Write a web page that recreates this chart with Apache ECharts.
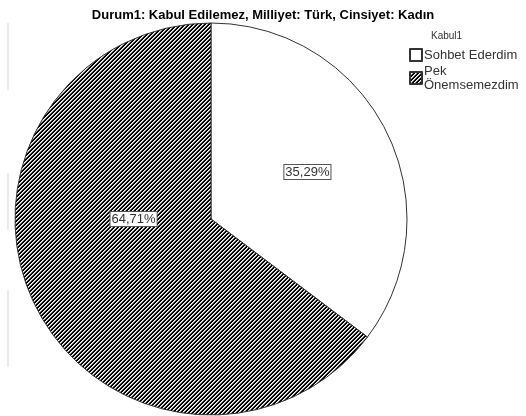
<!DOCTYPE html>
<html><head><meta charset="utf-8">
<script src="https://cdn.jsdelivr.net/npm/echarts@6/dist/echarts.min.js"></script>
<style>html,body{margin:0;padding:0;background:#fff}#c{width:526px;height:416px}</style>
</head><body><div id="c"></div>
<script>
const titleText = 'Durum1: Kabul Edilemez, Milliyet: Türk, Cinsiyet: Kadın';
const legendTitle = 'Kabul1';
const categories = ['Sohbet Ederdim', 'Pek\nÖnemsemezdim'];
const values = [35.29, 64.71];

const cv = document.createElement('canvas');
cv.width = 4; cv.height = 4;
const cx = cv.getContext('2d');
const shades = ['#000','#000','#fff','#aaa'];
for (let x=0;x<4;x++) for (let y=0;y<4;y++) { cx.fillStyle = shades[(x+y)%4]; cx.fillRect(x,y,1,1); }
const hatch = {image: cv, repeat: 'repeat'};

const labelOffsets = [[6,-2],[13,-45]];

const chart = echarts.init(document.getElementById('c'), null, {renderer:'canvas'});
chart.setOption({
  animation:false,
  backgroundColor:'#fff',
  title:{text:titleText,left:'center',top:4,textStyle:{fontFamily:'Liberation Sans, Arial',fontSize:13,fontWeight:'bold',color:'#000'}},
  legend:{
    orient:'vertical', left:404, top:43, itemWidth:12, itemHeight:12, itemGap:2,
    textStyle:{fontFamily:'Liberation Sans, Arial',fontSize:13,color:'#333',padding:[0,0,0,-3],lineHeight:14},
    data:categories.map(n=>({name:n,icon:'rect'}))
  },
  graphic:[
    {type:'text',left:431,top:31,style:{text:legendTitle,font:'10px Liberation Sans, Arial',fill:'#333'}},
    {type:'rect',shape:{x:7,y:23,width:2,height:67},style:{fill:'#ebebeb'}},
    {type:'rect',shape:{x:7,y:173,width:2,height:57},style:{fill:'#ebebeb'}},
    {type:'rect',shape:{x:7,y:290,width:2,height:77},style:{fill:'#ebebeb'}}
  ],
  series:[{
    type:'pie', center:[211,219], radius:196, startAngle:90, clockwise:true,
    data:categories.map((n,i)=>({name:n,value:values[i],itemStyle:{color:i===0?'#fff':hatch}})),
    itemStyle:{borderColor:'#333',borderWidth:1},
    label:{show:true,position:'inside',formatter:p=>p.value.toFixed(2).replace('.',',')+'%',
      fontFamily:'Liberation Sans, Arial',fontSize:13,color:'#333',backgroundColor:'#fff',
      borderColor:'#555',borderWidth:1,padding:[1,1,0,1]},
    labelLine:{show:false},
    emphasis:{disabled:true}
  }]
});
chart.setOption({series:[{labelLayout:function(p){const o=labelOffsets[p.dataIndex];return {dx:o[0],dy:o[1]};}}]});
</script></body></html>
